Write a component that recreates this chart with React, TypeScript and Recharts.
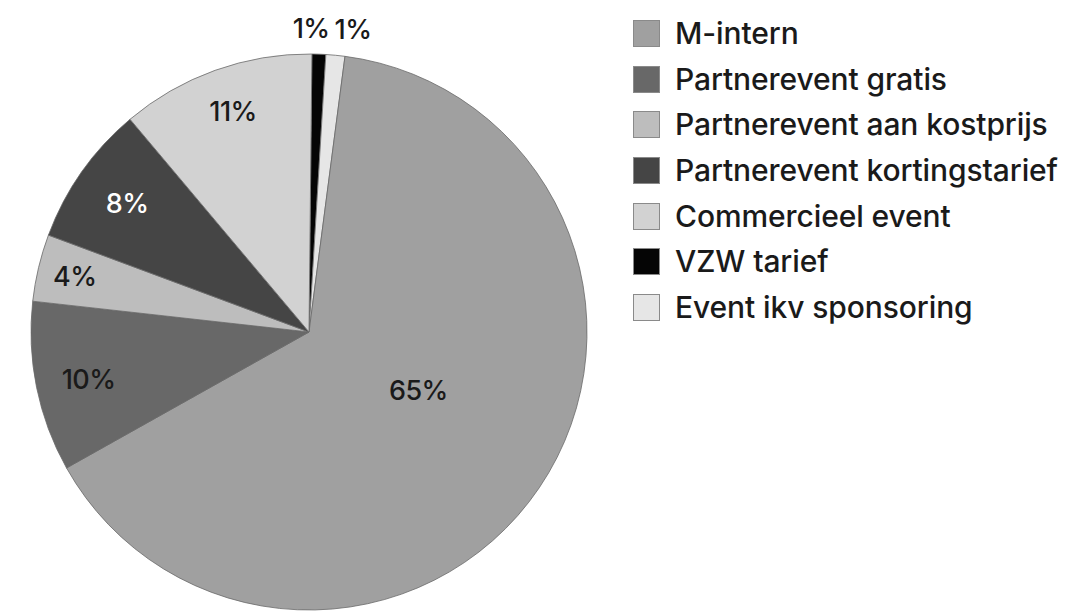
import React from "react";
import { PieChart, Pie, Cell, Legend } from "recharts";

// Pie slices in clockwise order from 12 o'clock
const sliceNames = [
  "VZW tarief",
  "Event ikv sponsoring",
  "M-intern",
  "Partnerevent gratis",
  "Partnerevent aan kostprijs",
  "Partnerevent kortingstarief",
  "Commercieel event",
];
const sliceValues = [0.8, 1.1, 64.8, 9.9, 3.9, 8.2, 11.3];
const sliceColors = ["#050505", "#e6e6e6", "#a0a0a0", "#686868", "#bdbdbd", "#454545", "#d2d2d2"];
const labelColors = ["#1a1a1a", "#1a1a1a", "#1a1a1a", "#1a1a1a", "#1a1a1a", "#ffffff", "#1a1a1a"];

// Legend order
const legendNames = [
  "M-intern",
  "Partnerevent gratis",
  "Partnerevent aan kostprijs",
  "Partnerevent kortingstarief",
  "Commercieel event",
  "VZW tarief",
  "Event ikv sponsoring",
];

// label placement tuning (radius fraction, clockwise angle shift in degrees)
const labelRadius = [1.09, 1.1, 0.447, 0.811, 0.866, 0.8, 0.838];
const labelShift = [-1.65, 2.8, -5.8, -0.7, 0, 0, 0.7];

const data = sliceNames.map((name, i) => ({ name, value: sliceValues[i] }));
const total = sliceValues.reduce((a, b) => a + b, 0);

const FONT = "Inter, 'Noto Sans', sans-serif";
const RAD = Math.PI / 180;

const renderLabel = (props: any) => {
  const { cx, cy, midAngle, outerRadius, index, value } = props;
  const ang = (midAngle - labelShift[index]) * RAD;
  const r = outerRadius * labelRadius[index];
  const x = cx + r * Math.cos(ang);
  const y = cy - r * Math.sin(ang);
  return (
    <text
      x={x}
      y={y}
      textAnchor="middle"
      dominantBaseline="central"
      fill={labelColors[index]}
      fontFamily={FONT}
      fontSize={27}
      fontWeight={500}
      letterSpacing={-0.6}
    >
      {Math.round((value / total) * 100)}%
    </text>
  );
};

const renderLegend = () => (
  <div style={{ fontFamily: FONT }}>
    {legendNames.map((n) => {
      const idx = sliceNames.indexOf(n);
      return (
        <div key={n} style={{ display: "flex", alignItems: "center", height: 45.6 }}>
          <div
            style={{
              width: 25,
              height: 25,
              background: sliceColors[idx],
              border: "1px solid #8a8a8a",
              marginRight: 15,
              boxSizing: "content-box",
              flexShrink: 0,
            }}
          />
          <span
            style={{
              fontSize: 30,
              fontWeight: 500,
              color: "#1a1a1a",
              letterSpacing: -0.1,
              whiteSpace: "nowrap",
              lineHeight: "45px",
            }}
          >
            {n}
          </span>
        </div>
      );
    })}
  </div>
);

export default function App() {
  return (
    <div style={{ position: "absolute", left: 0, top: 0, width: 1065, height: 613, background: "#fff", overflow: "hidden" }}>
      <PieChart width={1065} height={613} margin={{ top: 0, right: 0, bottom: 0, left: 0 }}>
        <Pie
          data={data}
          dataKey="value"
          nameKey="name"
          cx={309}
          cy={332}
          outerRadius={278}
          startAngle={89.4}
          endAngle={-270.6}
          stroke="#6a6a6a"
          strokeWidth={0.8}
          label={renderLabel}
          labelLine={false}
          isAnimationActive={false}
        >
          {data.map((d, i) => (
            <Cell key={d.name} fill={sliceColors[i]} />
          ))}
        </Pie>
        <Legend
          content={renderLegend}
          wrapperStyle={{ position: "absolute", left: 633, top: 11, width: 430 }}
        />
      </PieChart>
    </div>
  );
}
